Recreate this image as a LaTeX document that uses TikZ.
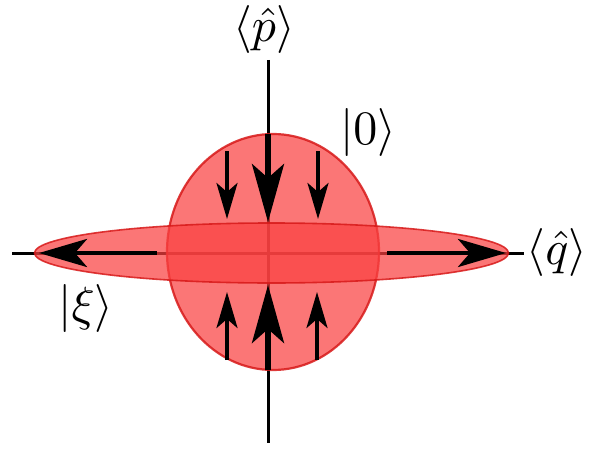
\documentclass[tikz,border=0pt]{standalone}
\usetikzlibrary{arrows.meta}
\definecolor{blobfill}{RGB}{250,65,65}
\definecolor{blobedge}{RGB}{215,25,25}
\newcommand{\biglbl}[1]{\scalebox{4.8}{#1}}
\tikzset{
  axis/.style={line width=3pt, black},
  blob/.style={fill=blobfill, fill opacity=0.72, draw=blobedge, draw opacity=0.85},
  bigarrow/.style={line width=5.5pt, -{Stealth[length=58pt, width=32pt, inset=14pt]}},
  smallarrow/.style={line width=3.6pt, -{Stealth[length=36pt, width=21pt, inset=9pt]}},
  sidearrow/.style={line width=4.5pt, -{Stealth[length=48pt, width=28pt, inset=12pt]}},
  lbl/.style={inner sep=0pt}
}
\begin{document}
\begin{tikzpicture}[x=1pt, y=-1pt]
\useasboundingbox (0,0) rectangle (589,452);
% axes
\coordinate (pt) at (268,60);
\coordinate (pb) at (268,443);
\coordinate (ql) at (12,253);
\coordinate (qr) at (524,253);
\draw[axis] (pt) -- (pb);
\draw[axis] (ql) -- (qr);
% states
\draw[blob, line width=2.2pt] (273,252) ellipse [x radius=106pt, y radius=118pt];
\draw[blob, line width=1.6pt] (271.5,253) ellipse [x radius=237pt, y radius=30pt];
% squeezing arrows
\coordinate (c1s) at (268,134); \coordinate (c1e) at (268,222);
\coordinate (c2s) at (268,370); \coordinate (c2e) at (268,285);
\coordinate (l1s) at (227,151); \coordinate (l1e) at (227,219);
\coordinate (r1s) at (318,151); \coordinate (r1e) at (318,219);
\coordinate (l2s) at (227,360); \coordinate (l2e) at (227,292);
\coordinate (r2s) at (317,360); \coordinate (r2e) at (317,292);
\coordinate (hls) at (157,253); \coordinate (hle) at (39,253);
\coordinate (hrs) at (387,253); \coordinate (hre) at (506,253);
\draw[bigarrow] (c1s) -- (c1e);
\draw[bigarrow] (c2s) -- (c2e);
\draw[smallarrow] (l1s) -- (l1e);
\draw[smallarrow] (r1s) -- (r1e);
\draw[smallarrow] (l2s) -- (l2e);
\draw[smallarrow] (r2s) -- (r2e);
\draw[sidearrow] (hls) -- (hle);
\draw[sidearrow] (hrs) -- (hre);
% labels
\node[lbl] (p) at (264,30) {\biglbl{$\langle\hat{p}\rangle$}};
\node[lbl] (zero) at (368,132) {\biglbl{$|0\rangle$}};
\node[lbl] (q) at (557,252) {\biglbl{$\langle\hat{q}\rangle$}};
\node[lbl] (xi) at (86,308) {\biglbl{$|\xi\rangle$}};
\end{tikzpicture}
\end{document}
